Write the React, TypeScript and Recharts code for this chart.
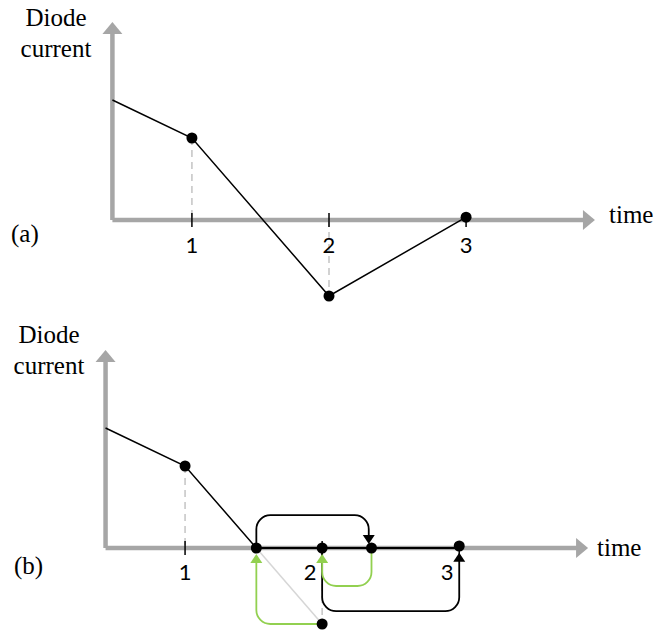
import { ComposedChart, Line, Scatter, XAxis, YAxis } from "recharts";

type Pt = { x: number; y: number };

const TICKS = [1, 2, 3];

// axis extents in (time, current) units
const ORIGIN_T = 0.42;
const TIME_END = 3.94;
const CURRENT_TOP = 4.95;

// (a) reverse recovery: falls through zero, reverse peak at t=2, back to zero at t=3
const CURVE_A: Pt[] = [
  { x: 0.42, y: 3.0 },
  { x: 1, y: 2.05 },
  { x: 2, y: -1.9 },
  { x: 3, y: 0.07 },
];
const POINTS_A: Pt[] = [
  { x: 1, y: 2.05 },
  { x: 2, y: -1.9 },
  { x: 3, y: 0.07 },
];
const GUIDES_A: Pt[][] = [
  [{ x: 1, y: 2.05 }, { x: 1, y: 0 }],
  [{ x: 2, y: 0 }, { x: 2, y: -1.9 }],
];

// (b) same start, current clamped at zero after the crossing
const CURVE_B: Pt[] = [
  { x: 0.42, y: 3.0 },
  { x: 1, y: 2.05 },
  { x: 1.52, y: 0 },
];
const SKIPPED_B: Pt[] = [
  { x: 1.52, y: 0 },
  { x: 2, y: -1.9 },
];
const ZERO_RUN_B: Pt[] = [
  { x: 1.52, y: 0 },
  { x: 3, y: 0 },
];
const POINTS_B: Pt[] = [
  { x: 1, y: 2.05 },
  { x: 1.52, y: 0 },
  { x: 2, y: 0 },
  { x: 2.36, y: 0 },
  { x: 3, y: 0.05 },
  { x: 2, y: -1.9 },
];
const GUIDES_B: Pt[][] = [
  [{ x: 1, y: 2.05 }, { x: 1, y: 0 }],
  [{ x: 2, y: 0 }, { x: 2, y: -1.9 }],
];
const JUMPS_B: Pt[][] = [
  [{ x: 1.52, y: 0 }, { x: 1.52, y: 0.82 }, { x: 2.34, y: 0.82 }, { x: 2.34, y: 0.1 }],
  [{ x: 2, y: 0 }, { x: 2, y: -1.58 }, { x: 3, y: -1.58 }, { x: 3, y: -0.12 }],
];
const RETURNS_B: Pt[][] = [
  [{ x: 2, y: -1.9 }, { x: 1.52, y: -1.9 }, { x: 1.52, y: -0.15 }],
  [{ x: 2.36, y: 0 }, { x: 2.36, y: -0.95 }, { x: 2, y: -0.95 }, { x: 2, y: -0.15 }],
];

const AXIS_GRAY = "#a6a6a6";
const GREEN = "#92d050";
const SERIF = "'Liberation Serif', 'Times New Roman', serif";

// d3 curve: straight segments joined by rounded corners, last segment trimmed by `trim` px
const elbow = (radius: number, trim = 0) => (context: any) => {
  let pts: number[][] = [];
  return {
    areaStart() {},
    areaEnd() {},
    lineStart() {
      pts = [];
    },
    point(x: number, y: number) {
      pts.push([+x, +y]);
    },
    lineEnd() {
      const n = pts.length;
      if (n < 2) return;
      const [px, py] = pts[n - 2];
      const [lx, ly] = pts[n - 1];
      const len = Math.hypot(lx - px, ly - py) || 1;
      pts[n - 1] = [lx - ((lx - px) / len) * trim, ly - ((ly - py) / len) * trim];
      context.moveTo(pts[0][0], pts[0][1]);
      for (let i = 1; i < n - 1; i++) {
        context.arcTo(pts[i][0], pts[i][1], pts[i + 1][0], pts[i + 1][1], radius);
      }
      context.lineTo(pts[n - 1][0], pts[n - 1][1]);
    },
  };
};

const ROUNDED = elbow(14, 4);
const SHAFT = elbow(0, 10);

type Head = Pt & { dx: number; dy: number };

const headOf = (path: Pt[]): Head => {
  const a = path[path.length - 2];
  const b = path[path.length - 1];
  return { ...b, dx: Math.sign(b.x - a.x), dy: -Math.sign(b.y - a.y) };
};

const arrowShape = (len: number, half: number, fill: string) => (p: any) => {
  const { cx, cy } = p;
  const { dx, dy } = p.payload;
  const bx = cx - dx * len;
  const by = cy - dy * len;
  return (
    <polygon
      points={`${cx},${cy} ${bx - dy * half},${by + dx * half} ${bx + dy * half},${by - dx * half}`}
      fill={fill}
    />
  );
};

const dotShape = (p: any) => <circle cx={p.cx} cy={p.cy} r={5.5} fill="#000" />;

const tickShape = (labelDy: number, shiftFrom: number) => (p: any) => (
  <g>
    <line x1={p.cx} x2={p.cx} y1={p.cy - 7} y2={p.cy + 7} stroke="#000" strokeWidth={1.5} />
    <text
      x={p.cx + (p.payload.x >= shiftFrom ? -12 : 0)}
      y={p.cy + labelDy}
      textAnchor="middle"
      dominantBaseline="central"
      fontFamily="Lato, 'Open Sans', sans-serif"
      fontSize={22}
      fill="#000"
    >
      {p.payload.x}
    </text>
  </g>
);

const TIME_AXIS: Pt[] = [
  { x: ORIGIN_T, y: 0 },
  { x: TIME_END, y: 0 },
];
const CURRENT_AXIS: Pt[] = [
  { x: ORIGIN_T, y: 0 },
  { x: ORIGIN_T, y: CURRENT_TOP },
];
const TICK_POINTS = TICKS.map((t) => ({ x: t, y: 0 }));

function Caption({ left, top, width, align, children }: any) {
  return (
    <div
      style={{
        position: "absolute",
        left,
        top,
        width,
        textAlign: align ?? "left",
        fontFamily: SERIF,
        fontSize: 25,
        lineHeight: "31px",
        whiteSpace: "nowrap",
        color: "#000",
      }}
    >
      {children}
    </div>
  );
}

function Panel({
  top,
  xDomain,
  labelDy,
  shiftFrom,
  children,
  points,
  heads,
  greenHeads,
}: {
  top: number;
  xDomain: [number, number];
  labelDy: number;
  shiftFrom: number;
  children: React.ReactNode;
  points: Pt[];
  heads: Head[];
  greenHeads: Head[];
}) {
  return (
    <div style={{ position: "absolute", left: 0, top }}>
      <ComposedChart width={658} height={320} margin={{ top: 0, right: 0, bottom: 0, left: 0 }}>
        <XAxis type="number" dataKey="x" domain={xDomain} hide allowDataOverflow />
        <YAxis type="number" dataKey="y" domain={[-2.5, 5.5]} hide allowDataOverflow />
        <Line data={TIME_AXIS} dataKey="y" type={SHAFT} stroke={AXIS_GRAY} strokeWidth={4.5} dot={false} activeDot={false} isAnimationActive={false} />
        <Line data={CURRENT_AXIS} dataKey="y" type={SHAFT} stroke={AXIS_GRAY} strokeWidth={4.5} dot={false} activeDot={false} isAnimationActive={false} />
        {children}
        <Scatter data={TICK_POINTS} shape={tickShape(labelDy, shiftFrom)} isAnimationActive={false} />
        <Scatter
          data={[headOf(TIME_AXIS), headOf(CURRENT_AXIS)]}
          shape={arrowShape(12, 10, AXIS_GRAY)}
          isAnimationActive={false}
        />
        <Scatter data={points} shape={dotShape} isAnimationActive={false} />
        <Scatter data={heads} shape={arrowShape(9, 6, "#000")} isAnimationActive={false} />
        <Scatter data={greenHeads} shape={arrowShape(9, 6, GREEN)} isAnimationActive={false} />
      </ComposedChart>
    </div>
  );
}

const guideLines = (guides: Pt[][]) =>
  guides.map((g, i) => (
    <Line
      key={`guide-${i}`}
      data={g}
      dataKey="y"
      type="linear"
      stroke="#c4c4c4"
      strokeWidth={1.5}
      strokeDasharray="7 5"
      dot={false}
      activeDot={false}
      isAnimationActive={false}
    />
  ));

const connectorLines = (paths: Pt[][], color: string, prefix: string) =>
  paths.map((p, i) => (
    <Line
      key={`${prefix}-${i}`}
      data={p}
      dataKey="y"
      type={ROUNDED}
      stroke={color}
      strokeWidth={1.8}
      dot={false}
      activeDot={false}
      isAnimationActive={false}
    />
  ));

export default function App() {
  return (
    <div
      style={{
        position: "absolute",
        left: 0,
        top: 0,
        width: 658,
        height: 630,
        overflow: "hidden",
        background: "#fff",
      }}
    >
      <Panel
        top={0}
        xDomain={[-0.4, 4.4]}
        labelDy={24}
        shiftFrom={99}
        points={POINTS_A}
        heads={[]}
        greenHeads={[]}
      >
        {guideLines(GUIDES_A)}
        <Line data={CURVE_A} dataKey="y" type="linear" stroke="#000" strokeWidth={1.5} dot={false} activeDot={false} isAnimationActive={false} />
      </Panel>

      <Panel
        top={328}
        xDomain={[-0.35, 4.45]}
        labelDy={23}
        shiftFrom={2}
        points={POINTS_B}
        heads={JUMPS_B.map(headOf)}
        greenHeads={RETURNS_B.map(headOf)}
      >
        {guideLines(GUIDES_B)}
        <Line data={SKIPPED_B} dataKey="y" type="linear" stroke="#d6d6d6" strokeWidth={1.5} dot={false} activeDot={false} isAnimationActive={false} />
        <Line data={CURVE_B} dataKey="y" type="linear" stroke="#000" strokeWidth={1.5} dot={false} activeDot={false} isAnimationActive={false} />
        <Line data={ZERO_RUN_B} dataKey="y" type="linear" stroke="#000" strokeWidth={2} dot={false} activeDot={false} isAnimationActive={false} />
        {connectorLines(JUMPS_B, "#000", "jump")}
        {connectorLines(RETURNS_B, GREEN, "return")}
      </Panel>

      <Caption left={6} top={2} width={100} align="center">
        Diode
        <br />
        current
      </Caption>
      <Caption left={11} top={218}>(a)</Caption>
      <Caption left={609} top={199}>time</Caption>

      <Caption left={-1} top={319} width={100} align="center">
        Diode
        <br />
        current
      </Caption>
      <Caption left={14} top={550}>(b)</Caption>
      <Caption left={597} top={532}>time</Caption>
    </div>
  );
}
